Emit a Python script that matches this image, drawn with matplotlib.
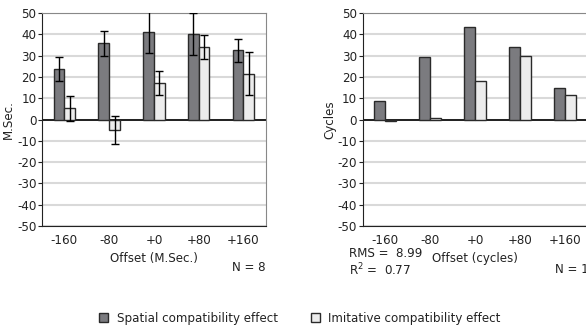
import numpy as np
import matplotlib
matplotlib.use("Agg")
import matplotlib.pyplot as plt
from matplotlib.patches import Patch

offsets = ["-160", "-80", "+0", "+80", "+160"]

# left panel: response times (M.Sec.)
spatial_ms = [23.7, 35.8, 41.2, 40.1, 32.5]
spatial_ms_err = [5.8, 5.8, 10.0, 9.9, 5.4]
imitative_ms = [5.2, -4.9, 17.2, 34.1, 21.6]
imitative_ms_err = [5.7, 6.6, 5.8, 5.5, 9.9]

# right panel: model (cycles)
spatial_cyc = [8.7, 29.2, 43.4, 33.9, 14.8]
imitative_cyc = [-0.9, 0.8, 18.1, 30.0, 11.5]

DARK = "#7b7b7f"
LIGHT = "#ececec"
EDGE = "#2a2a2a"
TXT = "#222222"
W = 0.24

plt.rcParams.update({'font.size': 8.6, 'font.family': 'DejaVu Sans',
                     'axes.unicode_minus': False})


def style_axes(ax, ylabel, xlabel):
    ax.set_xlim(-0.5, 4.5)
    ax.set_ylim(-50, 50)
    ax.set_yticks(np.arange(-50, 51, 10))
    ax.set_xticks(range(len(offsets)))
    ax.set_xticklabels(offsets)
    ax.tick_params(axis='x', length=0, pad=6, colors=TXT)
    ax.tick_params(axis='y', length=3, pad=1, colors=TXT)
    ax.yaxis.grid(True, color='#d9d9d9', linewidth=1.5, zorder=0)
    ax.set_axisbelow(True)
    ax.axhline(0, color='black', linewidth=1.2, zorder=1)
    ax.spines['left'].set_color(TXT)
    ax.spines['bottom'].set_color(TXT)
    ax.spines['top'].set_color('#888888')
    ax.spines['right'].set_color('#888888')
    ax.set_ylabel(ylabel, color=TXT)
    ax.yaxis.set_label_coords(-0.12, 0.5)
    ax.set_xlabel(xlabel, color=TXT)
    ax.xaxis.set_label_coords(0.5, -0.155)
    ax.xaxis.label.set_va('center')


fig = plt.figure(figsize=(5.86, 3.27), dpi=100)

ax1 = fig.add_axes([0.0717, 0.309, 0.382, 0.651])
x = np.arange(len(offsets))
ax1.bar(x - W / 2, spatial_ms, W, color=DARK, edgecolor=EDGE, linewidth=1, zorder=2)
ax1.bar(x + W / 2, imitative_ms, W, color=LIGHT, edgecolor=EDGE, linewidth=1, zorder=2)
ax1.errorbar(x - W / 2, spatial_ms, yerr=spatial_ms_err, fmt='none', ecolor='black',
             elinewidth=1, capsize=2.6, zorder=3)
ax1.errorbar(x + W / 2, imitative_ms, yerr=imitative_ms_err, fmt='none', ecolor='black',
             elinewidth=1, capsize=2.6, zorder=3)
style_axes(ax1, "M.Sec.", "Offset (M.Sec.)")
ax1.text(1.0, -0.197, "N = 8", transform=ax1.transAxes, ha='right', va='center',
         color=TXT)

ax2 = fig.add_axes([0.619, 0.309, 0.384, 0.651])
ax2.bar(x - W / 2, spatial_cyc, W, color=DARK, edgecolor=EDGE, linewidth=1, zorder=2)
ax2.bar(x + W / 2, imitative_cyc, W, color=LIGHT, edgecolor=EDGE, linewidth=1, zorder=2)
style_axes(ax2, "Cycles", "Offset (cycles)")
ax2.yaxis.set_label_coords(-0.116, 0.5)
ax2.text(-0.0625, -0.131, "RMS =  8.99", transform=ax2.transAxes, ha='left', va='center',
         color=TXT)
ax2.text(-0.0625, -0.206, "R$^2$ =  0.77", transform=ax2.transAxes, ha='left', va='center',
         color=TXT)
ax2.text(0.853, -0.206, "N = 10", transform=ax2.transAxes, ha='left', va='center',
         color=TXT)

handles = [Patch(facecolor=DARK, edgecolor=EDGE, label="Spatial compatibility effect"),
           Patch(facecolor=LIGHT, edgecolor=EDGE, label="Imitative compatibility effect")]
fig.legend(handles=handles, loc='center', bbox_to_anchor=(0.512, 0.027), ncol=2,
           frameon=False, handlelength=0.75, handleheight=0.75, handletextpad=0.7,
           columnspacing=2.8, labelcolor=TXT)

fig.savefig("out.png", dpi=100)
